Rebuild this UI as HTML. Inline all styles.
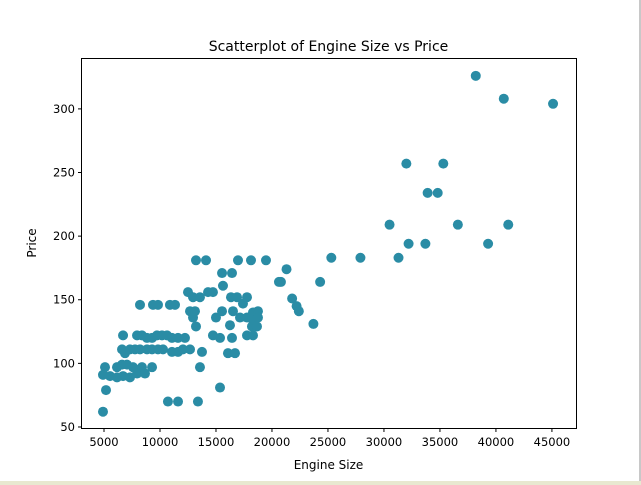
<!DOCTYPE html>
<html><head><meta charset="utf-8"><style>
body{margin:0;background:#fff;width:641px;height:485px;overflow:hidden;position:relative;font-family:"DejaVu Sans","Liberation Sans",sans-serif}
#strip{position:absolute;left:0;top:481px;width:641px;height:4px;background:#e8e8d0}
#rb{position:absolute;left:639px;top:0;width:2px;height:481px;background:#c8c8c8}
</style></head><body>
<div id="rb"></div>
<div id="strip"></div>
<svg id="chart" width="641" height="485" style="position:absolute;left:0;top:0"></svg>
<script>
const xTicks=[5000,10000,15000,20000,25000,30000,35000,40000,45000];
const yTicks=[50,100,150,200,250,300];
const engineSize=[38200,40700,45100,32000,35300,33900,34800,30500,36600,41100,32200,33700,39300,31300,27900,25300,24300,21300,20800,21800,22200,22400,23700,
13215,14110,16966,18127,19466,15540,16430,20625,15625,12500,12950,13570,14290,14730,16340,16880,17770,8215,9375,9820,10890,11340,17410,12680,13125,15540,16520,17145,17770,18305,18750,15000,12950,18305,18750,16250,13215,18215,18660,
6700,7950,8390,8840,9290,9730,10180,10630,11070,11610,12230,14730,15360,16430,17770,18305,
6610,6875,7320,7770,8215,8840,9290,9820,10270,11070,11610,12050,12680,13750,16070,16700,
5090,6160,6610,7050,7590,8390,9290,13570,4910,5540,6160,6700,7320,7950,8660,5180,15360,10710,11610,13390,4910];
const price=[326,308,304,257,257,234,234,209,209,209,194,194,194,183,183,183,164,174,164,151,145,141,131,
181,181,181,181,181,171,171,164,161,156,152,152,156,156,152,152,152,146,146,146,146,146,147,141,141,141,141,136,136,140,141,136,136,134,136,130,129,129,129,
122,122,122,120,120,122,122,122,120,120,120,122,120,120,122,122,
111,108,111,111,111,111,111,111,111,109,109,111,111,109,108,108,
97,97,99,99,97,97,97,97,91,90,89,90,89,92,92,79,81,70,70,70,62];
const L=81,T=58,W=495,H=370,X0=2946,X1=47150,Y0=49.2,Y1=340;
const sx=v=>L+(v-X0)/(X1-X0)*W, sy=v=>T+H-(v-Y0)/(Y1-Y0)*H;
const svg=document.getElementById('chart');const NS='http://www.w3.org/2000/svg';
function mk(t,a){const e=document.createElementNS(NS,t);for(const k in a)e.setAttribute(k,a[k]);svg.appendChild(e);return e;}
for(let i=0;i<engineSize.length;i++){const c=mk('circle',{cx:sx(engineSize[i]),cy:sy(price[i]),r:5,fill:'#2a8ca5'});

}
const f=mk('rect',{x:L+0.5,y:T+0.5,width:W,height:H,fill:'none',stroke:'#000','stroke-width':1});


xTicks.forEach(v=>{const x=sx(v);mk('line',{x1:x,x2:x,y1:T+H+0.5,y2:T+H+4,stroke:'#000'});
const t=mk('text',{x:x,y:T+H+18,'text-anchor':'middle','font-size':11.5,fill:'#000'});t.textContent=v;

});
yTicks.forEach(v=>{const y=sy(v);mk('line',{x1:L+0.5,x2:L-3,y1:y,y2:y,stroke:'#000'});
const t=mk('text',{x:L-6,y:y+4,'text-anchor':'end','font-size':11.5,fill:'#000'});t.textContent=v;

});
const tt=mk('text',{x:L+W/2,y:51,'text-anchor':'middle','font-size':14,fill:'#000'});tt.textContent='Scatterplot of Engine Size vs Price';


const xl=mk('text',{x:L+W/2,y:469,'text-anchor':'middle','font-size':12,fill:'#000'});xl.textContent='Engine Size';


const yl=mk('text',{x:36,y:T+H/2,'text-anchor':'middle','font-size':12,fill:'#000',transform:`rotate(-90 36 ${T+H/2})`});yl.textContent='Price';


</script>
</body></html>
